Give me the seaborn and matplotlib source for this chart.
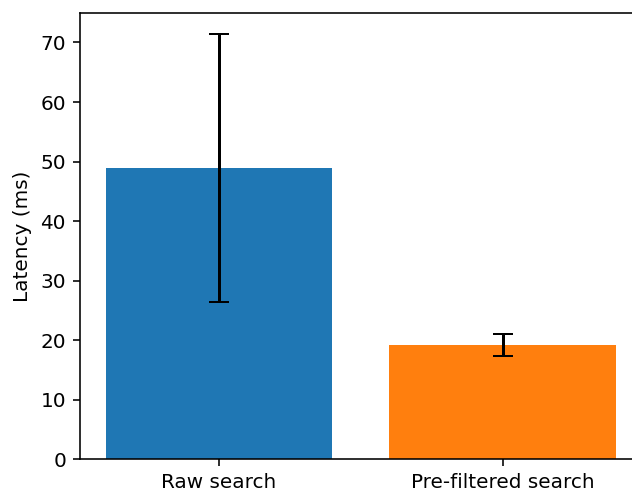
import matplotlib
matplotlib.use("Agg")
import matplotlib.pyplot as plt
import seaborn as sns
import pandas as pd

# values
methods = ["Raw search", "Pre-filtered search"]
latency_ms = [48.9, 19.2]
latency_err = [22.5, 1.8]
bar_colors = ["#1f77b4", "#ff7f0e"]

df = pd.DataFrame({"method": methods, "latency": latency_ms})

fig = plt.figure(figsize=(632 / 144, 490 / 144), dpi=144)
ax = fig.add_axes([0.1266, 0.0627, 0.8884, 0.9114])

sns.barplot(data=df, x="method", y="latency", hue="method", palette=bar_colors,
            saturation=1, errorbar=None, width=0.8, legend=False, ax=ax)
ax.errorbar(range(len(methods)), latency_ms, yerr=latency_err, fmt="none",
            ecolor="black", capsize=5, elinewidth=1.5)

ax.set_xlim(-0.49, 1.49)
ax.set_ylim(0, 75)
ax.set_xlabel("")
ax.set_ylabel("Latency (ms)")

fig.savefig("out.png", dpi=144)
